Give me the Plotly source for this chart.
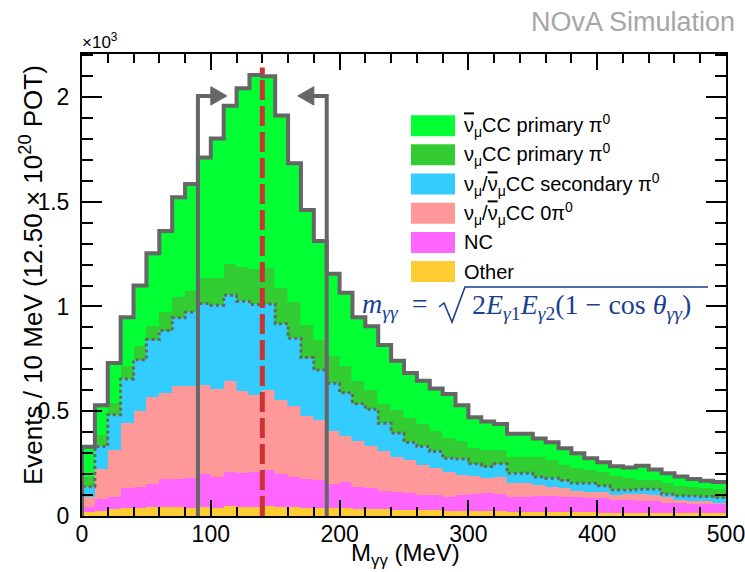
import numpy as np
import plotly.graph_objects as go

# ---------------- data (events per 10 MeV bin) ----------------
bin_low = list(range(0, 500, 10))          # lower bin edges, MeV
bin_width = 10

other = [21, 26, 32, 37, 37, 42, 42, 42, 40, 42, 40, 49, 45, 45, 49, 45, 45, 40, 40, 38,
         37, 35, 33, 32, 30, 30, 28, 27, 26, 25, 24, 23, 22, 21, 20, 19, 18, 18, 17, 17,
         16, 16, 16, 15, 15, 15, 14, 14, 13, 13]
nc = [24, 54, 57, 95, 100, 111, 133, 136, 142, 159, 148, 163, 159, 164, 171, 157, 140, 135, 130, 115,
      127, 102, 99, 89, 86, 78, 72, 73, 66, 75, 81, 85, 83, 71, 72, 76, 77, 71, 72, 67,
      68, 61, 61, 58, 58, 49, 50, 44, 45, 45]
zero_pi0 = [47, 143, 227, 311, 362, 413, 412, 441, 437, 426, 417, 431, 391, 370, 383, 353, 342, 301, 289, 252,
            219, 219, 200, 187, 168, 157, 144, 128, 120, 94, 86, 72, 80, 64, 64, 51, 42, 43, 32, 32,
            32, 23, 28, 32, 27, 29, 13, 14, 14, 6]
secondary_pi0 = [48, 109, 167, 211, 247, 276, 298, 327, 354, 387, 401, 410, 430, 431, 409, 363, 321, 280, 238, 229,
                 205, 180, 178, 135, 112, 86, 88, 80, 64, 78, 58, 56, 64, 48, 48, 40, 43, 37, 35, 40,
                 28, 24, 19, 23, 28, 11, 20, 24, 21, 24]
numu_primary = [48, 56, 56, 60, 64, 64, 88, 100, 100, 120, 131, 148, 165, 170, 173, 172, 173, 158, 145, 130,
                126, 107, 93, 92, 108, 118, 108, 96, 96, 84, 75, 80, 67, 77, 77, 95, 88, 75, 72, 64,
                68, 67, 56, 44, 44, 52, 47, 41, 39, 42]
numubar_primary = [142, 140, 191, 235, 290, 348, 387, 475, 511, 577, 665, 757, 851, 925, 914, 822, 663, 547, 470, 392,
                   351, 306, 303, 281, 237, 213, 205, 204, 210, 172, 147, 135, 123, 111, 111, 89, 84, 79, 71, 56,
                   44, 47, 52, 68, 50, 48, 44, 39, 36, 32]

NUBAR = "<span style='text-decoration:overline'>ν</span>"
layer_names = ["Other", "NC", f"ν<sub>μ</sub>/{NUBAR}<sub>μ</sub>CC 0π<sup>0</sup>",
               f"ν<sub>μ</sub>/{NUBAR}<sub>μ</sub>CC secondary π<sup>0</sup>",
               "ν<sub>μ</sub>CC primary π<sup>0</sup>", f"{NUBAR}<sub>μ</sub>CC primary π<sup>0</sup>"]
layers = [other, nc, zero_pi0, secondary_pi0, numu_primary, numubar_primary]
colors = ["#ffcc33", "#ff66ff", "#ff9999", "#33ccff", "#33cc33", "#00ff33"]

cut_low, cut_high = 90, 190       # selection window, MeV
pi0_mass = 140                    # MeV

# ---------------- geometry helpers (pixel -> paper) ----------------
W, H = 745, 572
PX0, PX1 = 82, 726
PY0, PY1 = 516, 54
def px(x):
    return (x - PX0) / (PX1 - PX0)
def py(y):
    return (PY0 - y) / (PY0 - PY1)

FONT = "Liberation Sans, Arial, sans-serif"
SERIF = "Liberation Serif, Times New Roman, serif"

fig = go.Figure()
centers = [b + bin_width / 2 for b in bin_low]
for vals, name, col in zip(layers, layer_names, colors):
    fig.add_trace(go.Bar(x=centers, y=vals, width=bin_width, name=name,
                         marker=dict(color=col, line=dict(color=col, width=0.6)),
                         showlegend=False))

edges = bin_low + [bin_low[-1] + bin_width]
cum4 = np.sum(np.array(layers[:4]), axis=0)
total = np.sum(np.array(layers), axis=0)

fig.add_trace(go.Scatter(x=[0] + edges, y=[0] + list(cum4) + [cum4[-1]], mode="lines",
                         line=dict(color="#666666", width=3, dash="3px,3px", shape="hv"),
                         showlegend=False, hoverinfo="skip"))
fig.add_trace(go.Scatter(x=[0] + edges, y=[0] + list(total) + [total[-1]], mode="lines",
                         line=dict(color="#666666", width=4, shape="hv"),
                         showlegend=False, hoverinfo="skip"))

shapes = []
cut_top = 2005
head_h = 44
shapes.append(dict(type="path", xref="x", yref="y", layer="above",
                   path=f"M {cut_low},0 L {cut_low},{cut_top} L 101,{cut_top}",
                   line=dict(color="#666666", width=4)))
shapes.append(dict(type="path", xref="x", yref="y", layer="above",
                   path=f"M 100,{cut_top-head_h} L 112.5,{cut_top} L 100,{cut_top+head_h} Z",
                   fillcolor="#666666", line=dict(color="#666666", width=1)))
shapes.append(dict(type="path", xref="x", yref="y", layer="above",
                   path=f"M {cut_high},0 L {cut_high},{cut_top} L 179,{cut_top}",
                   line=dict(color="#666666", width=4)))
shapes.append(dict(type="path", xref="x", yref="y", layer="above",
                   path=f"M 180,{cut_top-head_h} L 167.5,{cut_top} L 180,{cut_top+head_h} Z",
                   fillcolor="#666666", line=dict(color="#666666", width=1)))
shapes.append(dict(type="line", xref="x", yref="y", layer="above",
                   x0=pi0_mass, x1=pi0_mass, y0=0, y1=2140,
                   line=dict(color="#cc3333", width=5, dash="20px,6px")))

annotations = []
row_y = [125.7, 154.8, 184.0, 213.2, 242.4, 271.6]
legend_order = list(range(5, -1, -1))
for ry, li in zip(row_y, legend_order):
    shapes.append(dict(type="rect", xref="paper", yref="paper",
                       x0=px(411), x1=px(455), y0=py(ry + 10.5), y1=py(ry - 10.5),
                       fillcolor=colors[li], line=dict(width=0), layer="above"))
    annotations.append(dict(xref="paper", yref="paper", x=px(462), y=py(ry),
                            xanchor="left", yanchor="middle", showarrow=False,
                            text=layer_names[li], font=dict(family=FONT, size=20, color="black")))

fcol = "#1a3f8f"
annotations.append(dict(xref="paper", yref="paper", x=px(436), y=py(305),
                        xanchor="right", yanchor="middle", showarrow=False,
                        text="<i>m</i><sub><i>γγ</i></sub>  = ", font=dict(family=SERIF, size=28, color=fcol)))
shapes.append(dict(type="path", xref="paper", yref="paper", layer="above",
                   path=(f"M {px(439)},{py(307)} L {px(444)},{py(303)} L {px(452)},{py(322)} "
                         f"L {px(465)},{py(287)} L {px(708)},{py(287)}"),
                   line=dict(color=fcol, width=1.6)))
annotations.append(dict(xref="paper", yref="paper", x=px(470), y=py(306),
                        xanchor="left", yanchor="middle", showarrow=False,
                        text="2<i>E</i><sub><i>γ</i>1</sub><i>E</i><sub><i>γ</i>2</sub>(1 − cos <i>θ</i><sub><i>γγ</i></sub>)",
                        font=dict(family=SERIF, size=28, color=fcol)))

annotations.append(dict(xref="paper", yref="paper", x=px(737), y=py(22),
                        xanchor="right", yanchor="middle", showarrow=False,
                        text="NOvA Simulation", font=dict(family=FONT, size=27, color="#a6a6a6")))
annotations.append(dict(xref="paper", yref="paper", x=px(80), y=py(41),
                        xanchor="left", yanchor="middle", showarrow=False,
                        text="×10<sup>3</sup>", font=dict(family=FONT, size=17, color="black")))
# axis titles
annotations.append(dict(xref="paper", yref="paper", x=px(31), y=py(275),
                        xanchor="center", yanchor="middle", showarrow=False, textangle=-90,
                        text="Events / 10 MeV (12.50 × 10<sup>20</sup> POT)",
                        font=dict(family=FONT, size=26, color="black")))
annotations.append(dict(xref="paper", yref="paper", x=px(405), y=py(554),
                        xanchor="center", yanchor="middle", showarrow=False,
                        text="M<sub>γγ</sub> (MeV)",
                        font=dict(family=FONT, size=24, color="black")))

fig.update_layout(
    width=W, height=H,
    margin=dict(l=PX0, r=W - PX1, t=PY1, b=H - PY0, autoexpand=False),
    paper_bgcolor="white", plot_bgcolor="white",
    barmode="stack", bargap=0, showlegend=False,
    shapes=shapes, annotations=annotations,
    font=dict(family=FONT, color="black"),
)
fig.update_xaxes(range=[0, 500], tickvals=[0, 100, 200, 300, 400, 500], automargin=False,
                 ticks="inside", ticklen=16, tickwidth=1.5, tickcolor="black",
                 minor=dict(dtick=20, tick0=0, ticklen=9, tickwidth=1.5, ticks="inside", tickcolor="black"),
                 showline=True, linewidth=2, linecolor="black", mirror="ticks",
                 showgrid=False, zeroline=False, ticklabelstandoff=-4, ticklabeloverflow="allow",
                 tickfont=dict(family=FONT, size=23))
fig.update_yaxes(range=[0, 2205], tickvals=[0, 500, 1000, 1500, 2000], automargin=False,
                 ticktext=["0", "0.5", "1", "1.5", "2"],
                 ticks="inside", ticklen=20, tickwidth=1.5, tickcolor="black",
                 minor=dict(dtick=100, tick0=0, ticklen=11, tickwidth=1.5, ticks="inside", tickcolor="black"),
                 showline=True, linewidth=2, linecolor="black", mirror="ticks",
                 showgrid=False, zeroline=False, ticklabelstandoff=6, ticklabeloverflow="allow",
                 tickfont=dict(family=FONT, size=23))

fig.write_html("out.html")
